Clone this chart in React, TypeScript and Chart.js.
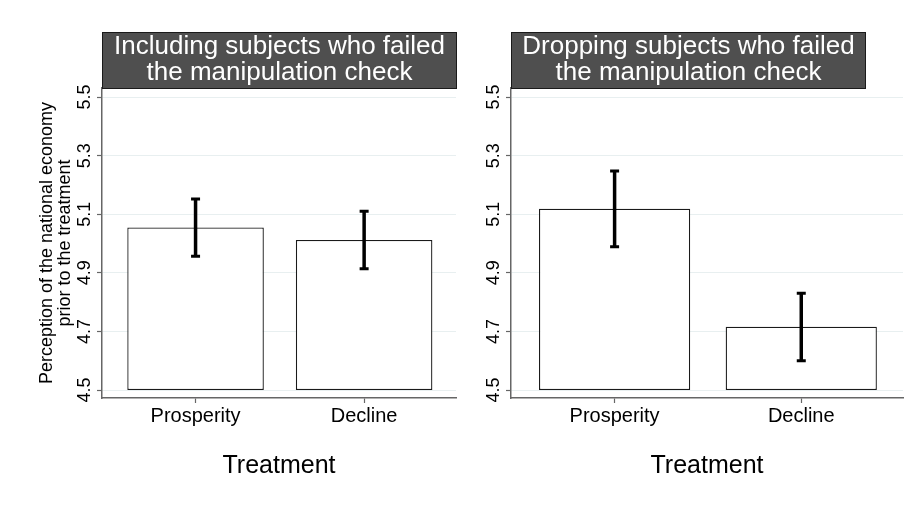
import React, { useEffect, useRef } from 'react';
import { Chart, registerables } from 'chart.js';

Chart.register(...registerables);

const FONT = '"Liberation Sans", Arial, Helvetica, sans-serif';

const categories = ['Prosperity', 'Decline'];
const panelTitleIncluding = ['Including subjects who failed', 'the manipulation check'];
const panelTitleDropping = ['Dropping subjects who failed', 'the manipulation check'];
const includingMeans = [5.055, 5.012];
const includingLower = [4.957, 4.914];
const includingUpper = [5.152, 5.11];
const droppingMeans = [5.119, 4.716];
const droppingLower = [4.989, 4.6];
const droppingUpper = [5.248, 4.83];
const yTicks = [4.5, 4.7, 4.9, 5.1, 5.3, 5.5];
const yTitle = ['Perception of the national economy', 'prior to the treatment'];
const xTitle = 'Treatment';
const barBase = 4.5;

type PanelProps = {
  left: number;
  title: string[];
  means: number[];
  lower: number[];
  upper: number[];
  showYTitle: boolean;
  axisWidth: number;
  padRight: number;
};

function Panel({ left, title, means, lower, upper, showYTitle, axisWidth, padRight }: PanelProps) {
  const ref = useRef<HTMLCanvasElement | null>(null);

  useEffect(() => {
    if (!ref.current) return;
    const deco = {
      id: 'panelDeco',
      afterDatasetsDraw(chart: any) {
        const ctx = chart.ctx;
        const ys = chart.scales.y;
        const meta = chart.getDatasetMeta(0);
        ctx.save();
        ctx.strokeStyle = '#000';
        meta.data.forEach((bar: any, i: number) => {
          const x = bar.x;
          const yl = ys.getPixelForValue(lower[i]);
          const yu = ys.getPixelForValue(upper[i]);
          ctx.lineWidth = 3.5;
          ctx.beginPath();
          ctx.moveTo(x, yl);
          ctx.lineTo(x, yu);
          ctx.stroke();
          ctx.lineWidth = 3;
          ctx.beginPath();
          ctx.moveTo(x - 4.5, yl);
          ctx.lineTo(x + 4.5, yl);
          ctx.moveTo(x - 4.5, yu);
          ctx.lineTo(x + 4.5, yu);
          ctx.stroke();
        });
        ctx.restore();
      },
      afterDraw(chart: any) {
        const ctx = chart.ctx;
        const area = chart.chartArea;
        const ys = chart.scales.y;
        ctx.save();
        // strip title box
        const bx = area.left;
        const bw = 355;
        const by = 32;
        const bh = area.top - by;
        ctx.fillStyle = '#4f4f4f';
        ctx.fillRect(bx, by, bw, bh);
        ctx.strokeStyle = '#1a1a1a';
        ctx.lineWidth = 1;
        ctx.strokeRect(bx + 0.5, by + 0.5, bw - 1, bh);
        ctx.fillStyle = '#ffffff';
        ctx.font = '26px ' + FONT;
        ctx.textAlign = 'center';
        ctx.textBaseline = 'alphabetic';
        ctx.fillText(title[0], bx + bw / 2, 54);
        ctx.fillText(title[1], bx + bw / 2, 80);
        // rotated y tick labels
        ctx.fillStyle = '#000';
        ctx.font = '18px ' + FONT;
        ctx.textAlign = 'center';
        ctx.textBaseline = 'middle';
        ys.ticks.forEach((t: any) => {
          const py = ys.getPixelForValue(t.value);
          ctx.save();
          ctx.translate(area.left - 17, py);
          ctx.rotate(-Math.PI / 2);
          ctx.fillText(t.value.toFixed(1), 0, 0);
          ctx.restore();
        });
        ctx.restore();
      },
    };

    const chart = new Chart(ref.current, {
      type: 'bar',
      data: {
        datasets: [
          {
            data: means.map((m, i) => ({ x: i, y: [barBase, m] })) as any,
            backgroundColor: '#ffffff',
            borderColor: '#1a1a1a',
            borderWidth: 1.3,
            borderSkipped: false,
            barPercentage: 0.81,
            categoryPercentage: 1,
          },
        ],
      },
      options: {
        responsive: false,
        animation: false,
        layout: { padding: { left: 0, right: padRight, top: 88, bottom: 0 } },
        plugins: { legend: { display: false }, tooltip: { enabled: false }, title: { display: false } },
        scales: {
          x: {
            type: 'linear',
            min: -0.555,
            max: 1.545,
            offset: false,
            afterBuildTicks: (s: any) => {
              s.ticks = categories.map((_, i) => ({ value: i }));
            },
            afterFit: (s: any) => {
              s.height = 108;
            },
            ticks: {
              autoSkip: false,
              maxRotation: 0,
              minRotation: 0,
              padding: 1,
              color: '#000',
              font: { family: FONT, size: 20 },
              callback: (_v: any, i: number) => categories[i],
            },
            grid: { offset: false, drawOnChartArea: false, drawTicks: true, tickLength: 5, tickColor: '#666', tickWidth: 1.2 },
            border: { display: true, color: '#666', width: 1.5 },
            title: {
              display: true,
              text: xTitle,
              color: '#000',
              font: { family: FONT, size: 25, lineHeight: 1.2 },
              padding: { top: 0, bottom: 25 },
            },
          },
          y: {
            type: 'linear',
            min: 4.4727,
            max: 5.531,
            afterBuildTicks: (s: any) => {
              s.ticks = yTicks.map((v) => ({ value: v }));
            },
            afterFit: (s: any) => {
              s.width = axisWidth;
            },
            ticks: { color: 'rgba(0,0,0,0)', font: { family: FONT, size: 18 } },
            grid: { color: '#e8eff0', lineWidth: 1, drawTicks: true, tickLength: 5, tickColor: '#666', tickWidth: 1.2 },
            border: { display: true, color: '#666', width: 1.5 },
            title: {
              display: showYTitle,
              text: yTitle,
              color: '#000',
              font: { family: FONT, size: 18, lineHeight: 1 },
              padding: { top: 38, bottom: 0 },
            },
          },
        },
      },
      plugins: [deco],
    });
    return () => chart.destroy();
  }, []);

  return (
    <div style={{ position: 'absolute', left, top: 0, width: 460, height: 506 }}>
      <canvas ref={ref} width={460} height={506} style={{ width: 460, height: 506, display: 'block' }} />
    </div>
  );
}

export default function App() {
  return (
    <div style={{ position: 'absolute', left: 0, top: 0, width: 920, height: 506, background: '#fff', overflow: 'hidden' }}>
      <Panel
        left={0}
        title={panelTitleIncluding}
        means={includingMeans}
        lower={includingLower}
        upper={includingUpper}
        showYTitle={true}
        axisWidth={102}
        padRight={4}
      />
      <Panel
        left={460}
        title={panelTitleDropping}
        means={droppingMeans}
        lower={droppingLower}
        upper={droppingUpper}
        showYTitle={false}
        axisWidth={51}
        padRight={17}
      />
    </div>
  );
}
